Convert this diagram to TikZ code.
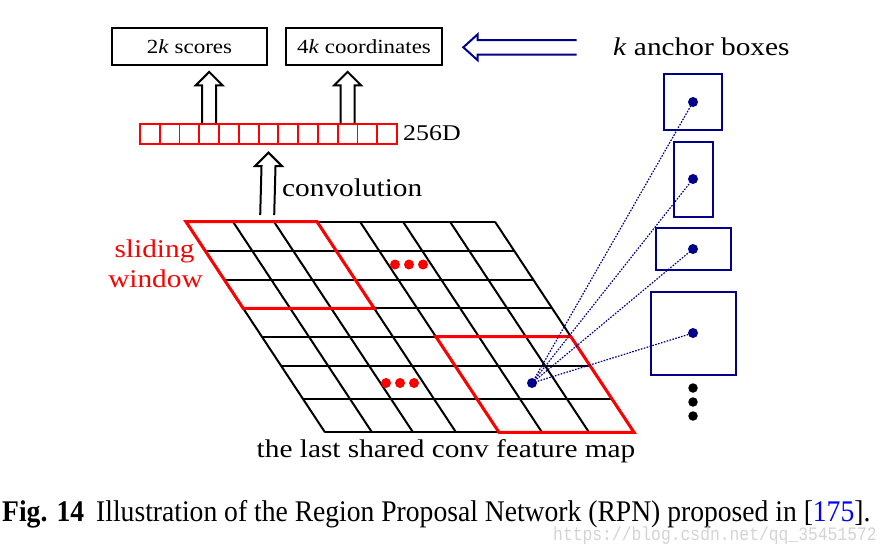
\documentclass[tikz,border=0pt]{standalone}
\usepackage{fontspec}
\setmainfont{Liberation Serif}
\newfontfamily\dfont[FakeStretch=1.15]{Liberation Serif}
\newfontfamily\cfont[FakeStretch=0.92]{Liberation Serif}
\newfontfamily\wfont[FakeStretch=0.86]{Liberation Mono}
\usetikzlibrary{calc}
\definecolor{navy}{RGB}{0,0,140}
\definecolor{pred}{RGB}{255,0,0}
\definecolor{refblue}{RGB}{0,0,255}
\definecolor{wmgray}{RGB}{212,212,212}
\newcommand\hollowup[2]{%
  \draw[harrow] ($(#1)+(-7,0)$) -- ($(#2)+(-7,13.5)$) -- ($(#2)+(-13.5,13.5)$) -- (#2)
    -- ($(#2)+(13.5,13.5)$) -- ($(#2)+(7,13.5)$) -- ($(#1)+(7,0)$);}
\begin{document}
\begin{tikzpicture}[x=1pt,y=-1pt,
  harrow/.style={line width=2pt,black,line join=miter},
  larrow/.style={line width=2pt,navy,line join=miter},
  tbox/.style={draw=black,line width=1.8pt,inner sep=0pt,font=\dfont\fontsize{20}{24}\selectfont},
  vcell/.style={draw=pred,line width=1.8pt,minimum width=19.77pt,minimum height=20pt,inner sep=0pt},
  gridline/.style={line width=2pt,black},
  winline/.style={line width=3pt,pred,line join=miter},
  abox/.style={draw=navy,line width=2pt,inner sep=0pt},
  bdot/.style={circle,fill=navy,inner sep=0pt,minimum size=10pt},
  rdot/.style={circle,fill=pred,inner sep=0pt,minimum size=10pt},
  kdot/.style={circle,fill=black,inner sep=0pt,minimum size=9.5pt},
  link/.style={navy,line width=1.2pt,dash pattern=on 1.6pt off 1.4pt},
  dtext/.style={inner sep=0pt,font=\dfont\fontsize{25.5}{30}\selectfont},
]
\useasboundingbox (0,0) rectangle (891,555);
\fill[white] (0,0) rectangle (891,555);

% top boxes
\node[tbox,minimum width=155pt,minimum height=37pt] (sc) at (189.5,46.5) {2\textit{k} scores};
\node[tbox,minimum width=156pt,minimum height=37pt] (co) at (364,46.5) {4\textit{k} coordinates};

% anchor label and arrow
\node[dtext,anchor=base west] (anc) at (613,55) {\textit{k} anchor boxes};
\coordinate (la1) at (576.7,47.3);
\coordinate (la0) at (463.3,47.3);
\draw[larrow] ($(la1)+(0,-7.2)$) -- ($(la0)+(14.4,-7.2)$) -- ($(la0)+(14.4,-13)$) -- (la0)
  -- ($(la0)+(14.4,13)$) -- ($(la0)+(14.4,7.2)$) -- ($(la1)+(0,7.2)$);

% 256D vector
\foreach \i in {0,...,12} {
  \node[vcell] (v\i) at ({140+19.77*(\i+0.5)},134) {};
}
\node[inner sep=0pt,anchor=base west,font=\dfont\fontsize{22.5}{26}\selectfont] (dim) at (403,140.7) {256D};

% arrows up
\hollowup{v3.north}{$(v3.north |- sc.south)+(0,6)$}
\hollowup{v10.north}{$(v10.north |- co.south)+(0,6)$}

% grid
\def\ys{221.7,251,280,308.3,336.7,365.7,399.3,432.3}
\def\xs{186,233,274,317,360,403,450,495}
\foreach \X [count=\i from 0] in \xs {
  \foreach \Y [count=\j from 0] in \ys {
    \coordinate (g-\i-\j) at ({\X+0.66*(\Y-221.7)},\Y);
  }
}
\foreach \j in {0,...,7} { \draw[gridline] (g-0-\j) -- (g-7-\j); }
\foreach \i in {0,...,7} { \draw[gridline] (g-\i-0) -- (g-\i-7); }
\draw[winline] (g-0-0) -- (g-3-0) -- (g-3-3) -- (g-0-3) -- cycle;
\draw[winline] (g-4-4) -- (g-7-4) -- (g-7-7) -- (g-4-7) -- cycle;

% convolution arrow
\coordinate (cb) at (267.2,215);
\hollowup{cb}{$(v6.south)+(0,7.7)$}
\node[dtext,anchor=base west] (conv) at (282,196.7) {convolution};

% sliding window label
\node[dtext,text=pred,anchor=base] (sl1) at (154.5,257) {sliding};
\node[dtext,text=pred,anchor=base] (sl2) at (155.5,287) {window};

% ellipses of red dots
\foreach \k in {-1,0,1} {
  \node[rdot] (ra\k) at ({409+14*\k},264.5) {};
  \node[rdot] (rb\k) at ({400+14*\k},383) {};
}

% anchor boxes
\node[abox,minimum width=58pt,minimum height=56pt] (a1) at (693,102) {};
\node[abox,minimum width=39pt,minimum height=75pt] (a2) at (693.5,179.5) {};
\node[abox,minimum width=75pt,minimum height=42pt] (a3) at (693.5,249) {};
\node[abox,minimum width=85pt,minimum height=83pt] (a4) at (693.5,333.5) {};
\node[bdot] (c1) at (a1.center) {};
\node[bdot] (c2) at (693,179) {};
\node[bdot] (c3) at (693,249) {};
\node[bdot] (c4) at (693,333) {};
\node[bdot] (src) at (532,383) {};
\foreach \n in {1,2,3,4} { \draw[link] (src.center) -- (c\n.center); }
\node[kdot] (k1) at (693,388) {};
\node[kdot] (k2) at (693,402) {};
\node[kdot] (k3) at (693,416) {};

% bottom label
\node[dtext,anchor=base] (fm) at (446,457) {the last shared conv feature map};

% caption
\node[inner sep=0pt,anchor=base west,font=\cfont\bfseries\fontsize{30}{34}\selectfont] (fig) at (2,521.7) {Fig. 14};
\node[inner sep=0pt,anchor=base west,font=\cfont\fontsize{30}{34}\selectfont] (cap) at (96,521.7) {Illustration of the Region Proposal Network (RPN) proposed in [\textcolor{refblue}{175}].};
\node[inner sep=0pt,anchor=base west,text=wmgray,font=\wfont\fontsize{19}{22}\selectfont] (wm) at (553,540) {https://blog.csdn.net/qq\_35451572};
\end{tikzpicture}
\end{document}
